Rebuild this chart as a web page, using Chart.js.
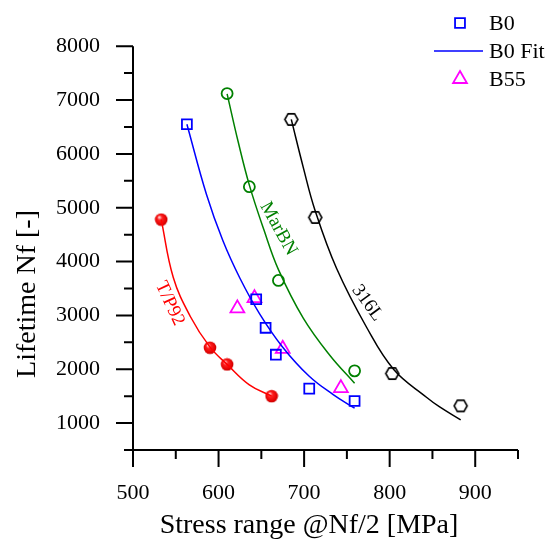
<!DOCTYPE html>
<html>
<head>
<meta charset="utf-8">
<script src="https://cdn.jsdelivr.net/npm/chart.js@4.4.1/dist/chart.umd.min.js"></script>
<style>
html, body { margin: 0; padding: 0; background: #fff; }
</style>
</head>
<body>
<canvas id="lifeChart" width="547" height="545"></canvas>
<script>
// values (stress range in MPa, lifetime in cycles)
var b0Stress = [563, 644, 655, 667, 706, 759];
var b0Life = [6550, 3300, 2770, 2270, 1640, 1410];

var b0FitStress = [563, 586, 605, 625, 648, 675, 706, 734, 759];
var b0FitLife = [6550, 5240, 4390, 3690, 3030, 2410, 1870, 1530, 1276];

var b55Stress = [622, 642, 675, 743];
var b55Life = [3130, 3320, 2380, 1650];

var marbnStress = [610, 636, 670, 759];
var marbnLife = [7120, 5390, 3650, 1970];
var marbnFitStress = [610, 623, 636, 653, 670, 699, 730, 759];
var marbnFitLife = [7115, 6220, 5420, 4590, 3850, 2950, 2260, 1741];

var s316Stress = [685, 713, 803, 883];
var s316Life = [6640, 4820, 1920, 1320];
var s316FitStress = [685, 699, 713, 738, 773, 805, 843, 858, 883];
var s316FitLife = [6640, 5750, 4940, 3870, 2780, 1990, 1480, 1305, 1060];

var p92Stress = [533, 590, 610, 662];
var p92Life = [4780, 2400, 2090, 1500];
var p92FitStress = [533, 547, 567, 590, 610, 636, 662];
var p92FitLife = [4780, 3710, 2980, 2410, 2090, 1710, 1500];

var xMajor = [500, 600, 700, 800, 900];
var xMinor = [550, 650, 750, 850, 950];
var yMajor = [1000, 2000, 3000, 4000, 5000, 6000, 7000, 8000];
var yMinor = [500, 1500, 2500, 3500, 4500, 5500, 6500, 7500];

var xTitle = 'Stress range @Nf/2 [MPa]';
var yTitle = 'Lifetime Nf [-]';

function pts(xs, ys) {
	var out = [];
	for (var i = 0; i < xs.length; i++) out.push({x: xs[i], y: ys[i]});
	return out;
}

// open hexagon marker
var hexMark = document.createElement('canvas');
hexMark.width = 17; hexMark.height = 17;
(function(){
	var c = hexMark.getContext('2d');
	c.strokeStyle = '#000'; c.lineWidth = 1.6;
	c.beginPath();
	for (var k = 0; k < 6; k++) {
		var a = Math.PI / 3 * k;
		var px = 8.5 + 6.5 * Math.cos(a), py = 8.5 + 6.5 * Math.sin(a);
		if (k === 0) c.moveTo(px, py); else c.lineTo(px, py);
	}
	c.closePath(); c.stroke();
})();

// shaded red ball marker
var ballMark = document.createElement('canvas');
ballMark.width = 14; ballMark.height = 14;
(function(){
	var c = ballMark.getContext('2d');
	var g = c.createRadialGradient(5, 4.5, 0.5, 7, 7, 7);
	g.addColorStop(0, '#ffd0d0');
	g.addColorStop(0.3, '#ff2020');
	g.addColorStop(0.8, '#e00000');
	g.addColorStop(1, '#b00000');
	c.fillStyle = g;
	c.beginPath(); c.arc(7, 7, 6.3, 0, Math.PI * 2); c.fill();
})();

var curveLabels = [
	{text: 'T/P92', x: 543, y: 3220, angle: 65, color: '#ff0000'},
	{text: 'MarBN', x: 670, y: 4610, angle: 61, color: '#008000'},
	{text: '316L', x: 774, y: 3230, angle: 54, color: '#000000'}
];

var serif = "'Liberation Serif', 'Times New Roman', serif";

var axesPlugin = {
	id: 'originAxes',
	afterDatasetsDraw: function(chart) {
		var ctx = chart.ctx, xs = chart.scales.x, ys = chart.scales.y;
		var area = chart.chartArea;
		ctx.save();
		// curve labels
		curveLabels.forEach(function(l) {
			ctx.save();
			ctx.translate(xs.getPixelForValue(l.x), ys.getPixelForValue(l.y));
			ctx.rotate(l.angle * Math.PI / 180);
			ctx.font = '19px ' + serif;
			ctx.fillStyle = l.color;
			ctx.textAlign = 'center';
			ctx.textBaseline = 'middle';
			ctx.fillText(l.text, 0, 0);
			ctx.restore();
		});

		// axis lines with major / minor ticks pointing out
		ctx.strokeStyle = '#000';
		ctx.lineWidth = 2;
		ctx.lineCap = 'butt';
		ctx.beginPath();
		ctx.moveTo(area.left, area.top);
		ctx.lineTo(area.left, area.bottom);
		ctx.moveTo(area.left - 1, area.bottom);
		ctx.lineTo(area.right, area.bottom);
		xMajor.forEach(function(v) {
			var p = xs.getPixelForValue(v);
			ctx.moveTo(p, area.bottom); ctx.lineTo(p, area.bottom + 17);
		});
		xMinor.forEach(function(v) {
			var p = xs.getPixelForValue(v);
			ctx.moveTo(p, area.bottom); ctx.lineTo(p, area.bottom + 9);
		});
		yMajor.forEach(function(v) {
			var p = ys.getPixelForValue(v);
			ctx.moveTo(area.left, p); ctx.lineTo(area.left - 17, p);
		});
		yMinor.forEach(function(v) {
			var p = ys.getPixelForValue(v);
			ctx.moveTo(area.left, p); ctx.lineTo(area.left - 9, p);
		});
		ctx.stroke();

		// axis titles
		ctx.fillStyle = '#000';
		ctx.font = '28px ' + serif;
		ctx.textAlign = 'center';
		ctx.textBaseline = 'middle';
		ctx.fillText(xTitle, 309, 526);
		ctx.save();
		ctx.translate(28, 294);
		ctx.rotate(-Math.PI / 2);
		ctx.fillText(yTitle, 0, 0);
		ctx.restore();

		// legend
		var items = chart.data.datasets.filter(function(d) { return d.inLegend; });
		ctx.font = '22px ' + serif;
		ctx.textBaseline = 'middle';
		ctx.textAlign = 'left';
		items.forEach(function(d, i) {
			var cy = 23 + i * 28;
			if (d.pointRadius > 0) {
				ctx.strokeStyle = d.borderColor;
				ctx.fillStyle = 'rgba(0,0,0,0)';
				ctx.lineWidth = d.pointBorderWidth;
				Chart.helpers.drawPoint(ctx, {pointStyle: d.pointStyle, radius: d.pointRadius, borderWidth: d.pointBorderWidth, rotation: 0}, 460, cy);
			} else {
				ctx.strokeStyle = d.borderColor;
				ctx.lineWidth = d.borderWidth;
				ctx.beginPath(); ctx.moveTo(434, cy); ctx.lineTo(483, cy); ctx.stroke();
			}
			ctx.fillStyle = '#000';
			ctx.fillText(d.label, 489, cy + 1);
		});
		ctx.restore();
	}
};

var fitLine = function(label, data, color, legend) {
	return {
		label: label, data: data, showLine: true, inLegend: legend,
		borderColor: color, borderWidth: 1.5, pointRadius: 0, pointHoverRadius: 0,
		tension: 0.4, fill: false
	};
};

var marks = function(label, data, color, style, r, legend) {
	return {
		label: label, data: data, showLine: false, inLegend: legend,
		borderColor: color, backgroundColor: 'rgba(0,0,0,0)',
		pointStyle: style, pointRadius: r, pointBorderWidth: 1.8,
		pointBackgroundColor: 'rgba(0,0,0,0)', pointBorderColor: color
	};
};

var ctx = document.getElementById('lifeChart');
Chart.defaults.font.family = serif;
Chart.defaults.color = '#000';

var chart = new Chart(ctx, {
	type: 'scatter',
	data: {
		datasets: [
			marks('B0', pts(b0Stress, b0Life), '#0000ff', 'rect', 7, true),
			fitLine('B0 Fit', pts(b0FitStress, b0FitLife), '#0000ff', true),
			marks('B55', pts(b55Stress, b55Life), '#ff00ff', 'triangle', 8, true),
			fitLine('MarBN Fit', pts(marbnFitStress, marbnFitLife), '#008000', false),
			marks('MarBN', pts(marbnStress, marbnLife), '#008000', 'circle', 5.5, false),
			fitLine('316L Fit', pts(s316FitStress, s316FitLife), '#000000', false),
			marks('316L', pts(s316Stress, s316Life), '#000000', hexMark, 7, false),
			fitLine('T/P92 Fit', pts(p92FitStress, p92FitLife), '#ff0000', false),
			marks('T/P92', pts(p92Stress, p92Life), '#ff0000', ballMark, 7, false)
		]
	},
	options: {
		responsive: false,
		animation: false,
		layout: {padding: {top: 37, right: 29, left: 0, bottom: 0}},
		plugins: {legend: {display: false}, tooltip: {enabled: false}},
		scales: {
			x: {
				type: 'linear', min: 500, max: 950,
				grid: {display: false, drawTicks: false},
				border: {display: false},
				afterBuildTicks: function(s) { s.ticks = xMajor.map(function(v) { return {value: v}; }); },
				ticks: {padding: 30, maxRotation: 0, autoSkip: false, font: {size: 22}},
				afterFit: function(s) { s.height = 95; }
			},
			y: {
				type: 'linear', min: 500, max: 8000,
				grid: {display: false, drawTicks: false},
				border: {display: false},
				afterBuildTicks: function(s) { s.ticks = yMajor.map(function(v) { return {value: v}; }); },
				ticks: {
					padding: 33, autoSkip: false, font: {size: 22},
					callback: function(v) { return String(v); }
				},
				afterFit: function(s) { s.width = 133; }
			}
		}
	},
	plugins: [axesPlugin]
});
</script>
</body>
</html>
